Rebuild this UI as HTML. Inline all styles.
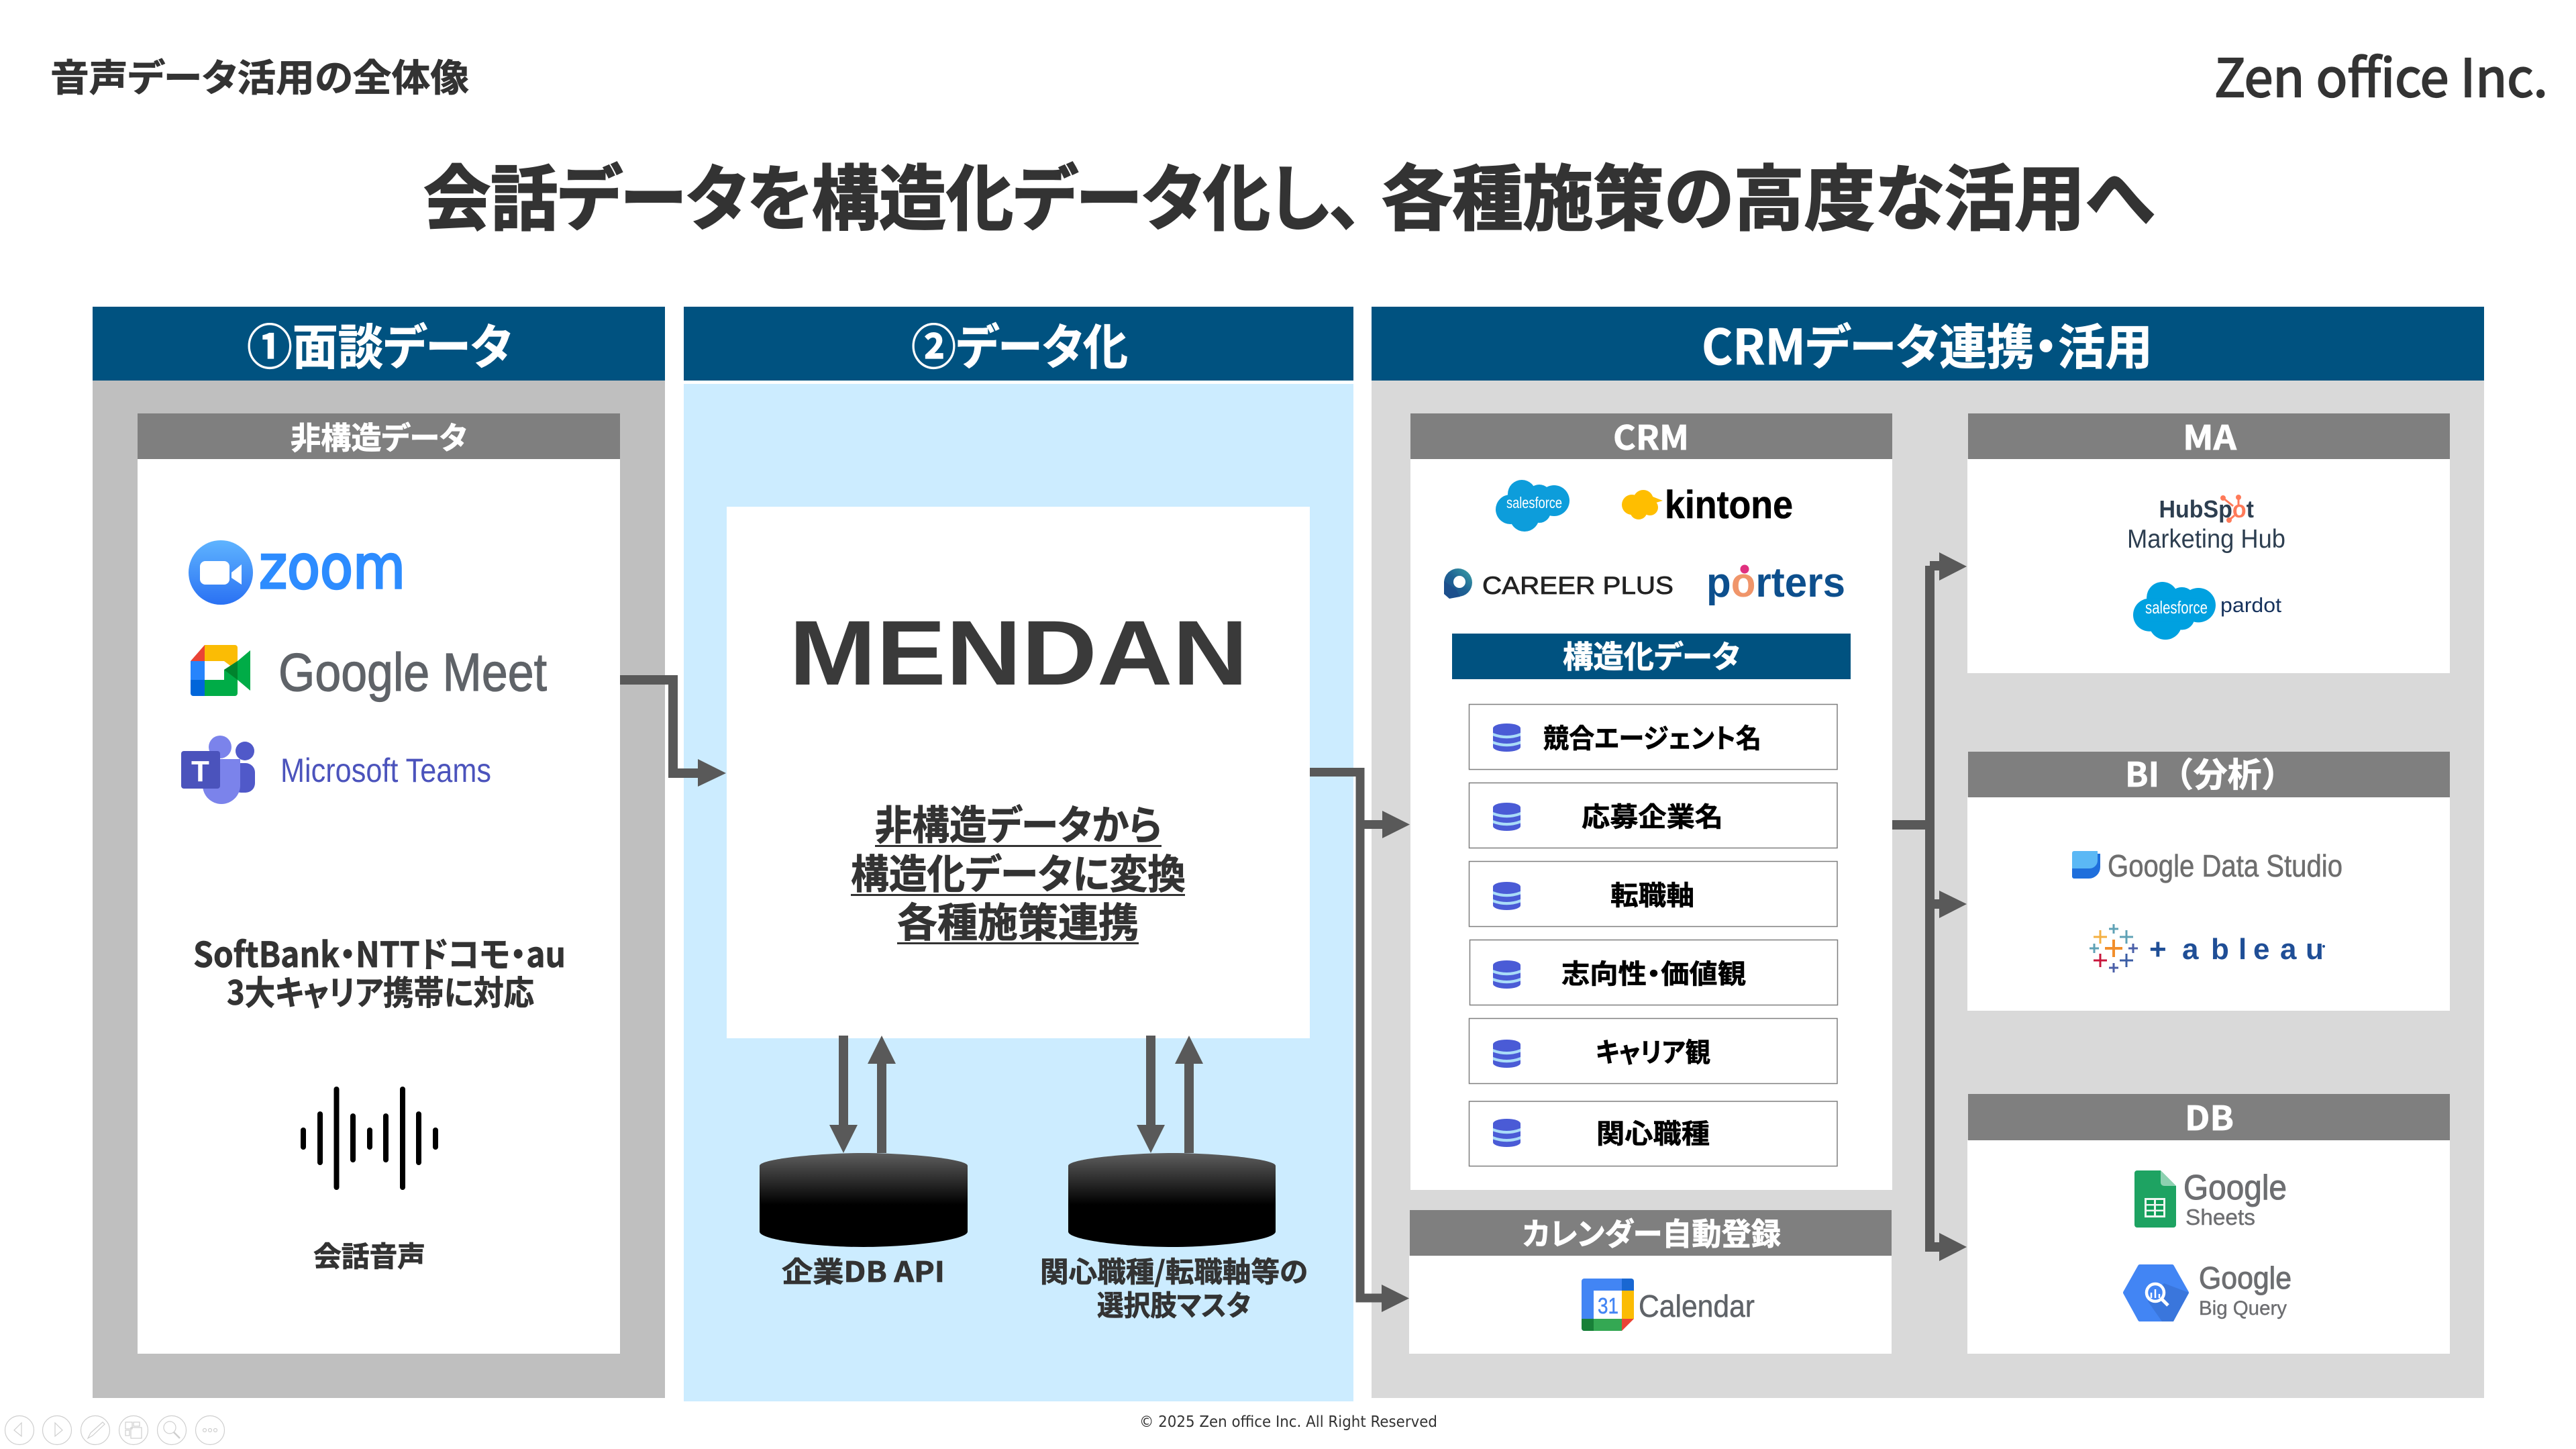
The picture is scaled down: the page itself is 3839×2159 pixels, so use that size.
<!DOCTYPE html>
<html lang="ja"><head><meta charset="utf-8"><title>音声データ活用の全体像</title>
<style>
html,body{margin:0;padding:0;background:#fff}
svg{display:block}
text{font-family:"Liberation Sans","Noto Sans CJK JP",sans-serif;font-feature-settings:"palt";font-kerning:normal}
.b{font-weight:700}
.j{font-family:"Noto Sans CJK JP","Liberation Sans",sans-serif;font-weight:700}
.c{fill:#333;stroke:#333;stroke-width:.8}.w{fill:#fff;stroke:#fff;stroke-width:.8}.k{fill:#000;stroke:#000;stroke-width:.6}
</style></head><body>
<svg xmlns="http://www.w3.org/2000/svg" width="3839" height="2159" viewBox="0 0 3839 2159">
<defs>
<linearGradient id="cy" x1="0" y1="0" x2="0" y2="1"><stop offset="0" stop-color="#5e5e5e"/><stop offset=".55" stop-color="#000"/><stop offset="1" stop-color="#000"/></linearGradient>
<linearGradient id="zg" x1="0" y1="0" x2="0" y2="1"><stop offset="0" stop-color="#5fb4ff"/><stop offset="1" stop-color="#2a71f3"/></linearGradient>
<linearGradient id="cp" x1="1" y1="0" x2="0" y2="1"><stop offset="0" stop-color="#3da5a8"/><stop offset=".5" stop-color="#1f6294"/><stop offset="1" stop-color="#1c4f8c"/></linearGradient>
<g id="cl"><circle cx="39" cy="21" r="21"/><circle cx="65" cy="25" r="18"/><circle cx="87" cy="31" r="23"/><circle cx="22" cy="44" r="22"/><circle cx="43" cy="55" r="22"/><circle cx="65" cy="47" r="17"/><rect x="20" y="22" width="70" height="30"/></g>
<g id="db"><rect x="0" y="4" width="41" height="34" rx="4" fill="#4a5bd6"/><ellipse cx="20.5" cy="7" rx="20.5" ry="7" fill="#4a5bd6"/><ellipse cx="20.5" cy="35" rx="20.5" ry="7" fill="#4a5bd6"/><path d="M0 14 Q20.5 22 41 14 V18.5 Q20.5 26 0 18.5Z M0 26 Q20.5 34 41 26 V30.5 Q20.5 38 0 30.5Z" fill="#a9dcf8"/></g>
</defs>

<!-- header text -->
<text class="j c" x="75" y="136" font-size="56" textLength="624" lengthAdjust="spacingAndGlyphs">音声データ活用の全体像</text>
<text x="3300" y="144" font-size="78" fill="#333" stroke="#333" stroke-width="2.2" textLength="497" lengthAdjust="spacingAndGlyphs" style="font-family:'Noto Sans CJK JP','Liberation Sans',sans-serif">Zen office Inc.</text>
<text class="j c" style="stroke-width:2.2" x="631" y="334" font-size="106" textLength="1400" lengthAdjust="spacingAndGlyphs">会話データを構造化データ化し、</text>
<text class="j c" style="stroke-width:2.2" x="2059" y="334" font-size="106" textLength="1151" lengthAdjust="spacingAndGlyphs">各種施策の高度な活用へ</text>

<!-- column 1 -->
<rect x="138" y="567" width="853" height="1516" fill="#bfbfbf"/>
<rect x="138" y="457" width="853" height="110" fill="#005280"/>
<text class="j w" x="368" y="543" font-size="72" textLength="395" lengthAdjust="spacingAndGlyphs">①面談データ</text>
<rect x="205" y="684" width="719" height="1333" fill="#fff"/>
<rect x="205" y="616" width="719" height="68" fill="#7f7f7f"/>
<text class="j w" x="433" y="669" font-size="46" textLength="263" lengthAdjust="spacingAndGlyphs">非構造データ</text>

<!-- zoom -->
<circle cx="329" cy="853" r="48" fill="url(#zg)"/>
<rect x="298" y="836" width="44" height="35" rx="8" fill="#fff"/>
<polygon points="345,853 360,841 360,871 345,861" fill="#fff"/>
<text x="386" y="876" font-size="90" fill="#2d8cff" stroke="#2d8cff" stroke-width="3.500" textLength="218" lengthAdjust="spacingAndGlyphs" style="font-family:'DejaVu Sans',sans-serif">zoom</text>

<!-- meet -->
<polygon points="284,985 305,961 305,985" fill="#ea4335"/>
<path d="M305 961H350a4 4 0 0 1 4 4V1000L334 985H305Z" fill="#fbbc04"/>
<rect x="284" y="985" width="21" height="28" fill="#2684fc"/>
<path d="M284 1013H305V1037H288a4 4 0 0 1-4-4Z" fill="#0066da"/>
<path d="M305 1013H334V998L354 985V1033a4 4 0 0 1-4 4H305Z" fill="#00ac47"/>
<polygon points="334,998 354,985 373,969 373,1029 354,1013" fill="#00ac47"/>
<polygon points="334,998 354,985 354,1013" fill="#00832d"/>
<rect x="305" y="985" width="29" height="28" fill="#fff"/>
<text x="415" y="1029" font-size="80" fill="#5f6368" stroke="#5f6368" stroke-width="1.200" textLength="400" lengthAdjust="spacingAndGlyphs">Google Meet</text>

<!-- teams -->
<circle cx="365" cy="1119" r="14" fill="#5059c9"/>
<rect x="345" y="1137" width="35" height="44" rx="14" fill="#5059c9"/>
<circle cx="328" cy="1113" r="17" fill="#7b83eb"/>
<path d="M302 1131H358V1170a28 28 0 0 1-56 0Z" fill="#7b83eb"/>
<rect x="270" y="1119" width="58" height="56" rx="4" fill="#4b53bc"/>
<text class="b" x="285" y="1164" font-size="44" fill="#fff">T</text>
<text x="418" y="1165" font-size="50" fill="#4b53bc" textLength="314" lengthAdjust="spacingAndGlyphs">Microsoft Teams</text>

<text class="j c" x="288" y="1441" font-size="52" textLength="555" lengthAdjust="spacingAndGlyphs">SoftBank・NTTドコモ・au</text>
<text class="j c" x="338" y="1497" font-size="50" textLength="458" lengthAdjust="spacingAndGlyphs">3大キャリア携帯に対応</text>

<!-- waveform -->
<g fill="#000">
<rect x="448" y="1680" width="8" height="33" rx="4"/>
<rect x="473" y="1656" width="8" height="80" rx="4"/>
<rect x="497.500" y="1619" width="8" height="154" rx="4"/>
<rect x="522" y="1659" width="8" height="73" rx="4"/>
<rect x="547" y="1680" width="8" height="33" rx="4"/>
<rect x="571" y="1659" width="8" height="73" rx="4"/>
<rect x="596" y="1619" width="8" height="154" rx="4"/>
<rect x="620" y="1656" width="8" height="80" rx="4"/>
<rect x="645" y="1680" width="8" height="33" rx="4"/>
</g>
<text class="j c" x="467" y="1887" font-size="42" textLength="167" lengthAdjust="spacingAndGlyphs">会話音声</text>

<!-- column 2 -->
<rect x="1019" y="457" width="998" height="110" fill="#005280"/>
<rect x="1019" y="572" width="998" height="1516" fill="#ccecff"/>
<text class="j w" x="1358" y="543" font-size="72" textLength="323" lengthAdjust="spacingAndGlyphs">②データ化</text>
<rect x="1083" y="755" width="869" height="792" fill="#fff"/>
<text class="b" x="1176" y="1020" font-size="137" fill="#3a3a3a" textLength="684" lengthAdjust="spacingAndGlyphs">MENDAN</text>
<text class="j c" x="1304" y="1251" font-size="60" textLength="427" lengthAdjust="spacingAndGlyphs">非構造データから</text>
<rect x="1304" y="1259" width="427" height="3" fill="#333"/>
<text class="j c" x="1268" y="1324" font-size="60" textLength="499" lengthAdjust="spacingAndGlyphs">構造化データに変換</text>
<rect x="1268" y="1332" width="498" height="3" fill="#333"/>
<text class="j c" x="1337" y="1396" font-size="60" textLength="360" lengthAdjust="spacingAndGlyphs">各種施策連携</text>
<rect x="1337" y="1404" width="360" height="3" fill="#333"/>

<!-- cylinders -->
<path d="M1132 1737C1132 1727 1220 1718 1287 1718C1354 1718 1442 1727 1442 1737V1835C1442 1848 1354 1858 1287 1858C1220 1858 1132 1848 1132 1835Z" fill="url(#cy)"/>
<path d="M1592 1737C1592 1727 1680 1718 1747 1718C1814 1718 1901 1727 1901 1737V1835C1901 1848 1814 1858 1747 1858C1680 1858 1592 1848 1592 1835Z" fill="url(#cy)"/>
<text class="j c" x="1165" y="1910" font-size="42" textLength="243" lengthAdjust="spacingAndGlyphs">企業DB API</text>
<text class="j c" x="1550" y="1910" font-size="42" textLength="399" lengthAdjust="spacingAndGlyphs">関心職種/転職軸等の</text>
<text class="j c" x="1635" y="1960" font-size="42" textLength="229" lengthAdjust="spacingAndGlyphs">選択肢マスタ</text>

<!-- vertical arrows -->
<g fill="#595959">
<rect x="1250" y="1543" width="14" height="135"/><polygon points="1236,1676 1278,1676 1257,1718"/>
<rect x="1307" y="1583" width="14" height="135"/><polygon points="1293,1585 1335,1585 1314,1543"/>
<rect x="1708" y="1543" width="14" height="135"/><polygon points="1694,1676 1736,1676 1715,1718"/>
<rect x="1765" y="1583" width="14" height="135"/><polygon points="1751,1585 1793,1585 1772,1543"/>
</g>

<!-- column 3 -->
<rect x="2044" y="567" width="1658" height="1516" fill="#d9d9d9"/>
<rect x="2044" y="457" width="1658" height="110" fill="#005280"/>
<text class="j w" x="2536" y="543" font-size="72" textLength="672" lengthAdjust="spacingAndGlyphs">CRMデータ連携・活用</text>

<!-- CRM -->
<rect x="2102" y="684" width="718" height="1089" fill="#fff"/>
<rect x="2102" y="616" width="718" height="68" fill="#7f7f7f"/>
<text class="j w" x="2404" y="670" font-size="50" textLength="113" lengthAdjust="spacingAndGlyphs">CRM</text>

<use href="#cl" transform="translate(2229,715)" fill="#0d9ddb"/>
<text x="2245" y="757" font-size="23" fill="#fff" textLength="83" lengthAdjust="spacingAndGlyphs">salesforce</text>
<g fill="#ffbe00"><circle cx="2432" cy="752" r="15"/><circle cx="2449" cy="745" r="15"/><circle cx="2459" cy="756" r="12"/><circle cx="2442" cy="761" r="13"/><polygon points="2458,738 2478,746 2458,752"/></g>
<text class="b k" x="2481" y="772" font-size="58" textLength="191" lengthAdjust="spacingAndGlyphs">kintone</text>

<circle cx="2173" cy="868" r="21" fill="url(#cp)"/>
<path d="M2152 866V885L2160 892L2176 889L2170 878Z" fill="#1c4f8c"/>
<circle cx="2175" cy="867" r="9" fill="#fff"/>
<text x="2209" y="885" font-size="37" fill="#222" stroke="#222" stroke-width=".8" textLength="285" lengthAdjust="spacingAndGlyphs">CAREER PLUS</text>

<text class="b" x="2543" y="889" font-size="62" fill="#0d4f8d" textLength="207" lengthAdjust="spacingAndGlyphs">p<tspan fill="#f0956a">o</tspan>rters</text>
<circle cx="2600" cy="848" r="6.500" fill="#e0307f"/>

<rect x="2164" y="944" width="594" height="68" fill="#005280"/>
<text class="j w" x="2329" y="995" font-size="46" textLength="264" lengthAdjust="spacingAndGlyphs">構造化データ</text>

<g fill="#fff" stroke="#7f7f7f" stroke-width="1.500">
<rect x="2189.500" y="1049.500" width="548.500" height="97"/>
<rect x="2189.500" y="1166.500" width="548.500" height="97"/>
<rect x="2189.500" y="1283.500" width="548.500" height="97"/>
<rect x="2190.500" y="1400.500" width="548" height="97"/>
<rect x="2189.500" y="1517.500" width="548.500" height="97"/>
<rect x="2189.500" y="1641" width="548.500" height="96.500"/>
</g>
<use href="#db" x="2225" y="1078"/><use href="#db" x="2225" y="1196"/><use href="#db" x="2225" y="1314"/><use href="#db" x="2225" y="1431"/><use href="#db" x="2225" y="1549"/><use href="#db" x="2225" y="1667"/>
<text class="j k" x="2300" y="1114" font-size="40" textLength="325" lengthAdjust="spacingAndGlyphs">競合エージェント名</text>
<text class="j k" x="2357" y="1231" font-size="40" textLength="211" lengthAdjust="spacingAndGlyphs">応募企業名</text>
<text class="j k" x="2400" y="1348" font-size="40" textLength="125" lengthAdjust="spacingAndGlyphs">転職軸</text>
<text class="j k" x="2327" y="1465" font-size="40" textLength="275" lengthAdjust="spacingAndGlyphs">志向性・価値観</text>
<text class="j k" x="2378" y="1582" font-size="40" textLength="171" lengthAdjust="spacingAndGlyphs">キャリア観</text>
<text class="j k" x="2379" y="1703" font-size="40" textLength="169" lengthAdjust="spacingAndGlyphs">関心職種</text>

<!-- Calendar -->
<rect x="2100" y="1871" width="719" height="146" fill="#fff"/>
<rect x="2101" y="1803" width="718" height="68" fill="#7f7f7f"/>
<text class="j w" x="2269" y="1855" font-size="46" textLength="385" lengthAdjust="spacingAndGlyphs">カレンダー自動登録</text>
<path d="M2361 1905H2417V1965H2376V1983H2361a4 4 0 0 1-4-4V1909a4 4 0 0 1 4-4Z" fill="#4285f4"/>
<path d="M2417 1905H2431a4 4 0 0 1 4 4V1923H2417Z" fill="#1967d2"/>
<rect x="2417" y="1923" width="18" height="42" fill="#fbbc04"/>
<rect x="2375" y="1965" width="42" height="18" fill="#34a853"/>
<path d="M2357 1965H2375V1983H2361a4 4 0 0 1-4-4Z" fill="#188038"/>
<polygon points="2417,1965 2435,1965 2417,1983" fill="#ea4335"/>
<rect x="2375" y="1923" width="42" height="42" fill="#fff"/>
<text x="2381" y="1957" font-size="33" fill="#4285f4" stroke="#4285f4" stroke-width=".5" textLength="31" lengthAdjust="spacingAndGlyphs">31</text>
<text x="2442" y="1962" font-size="46" fill="#5f6368" stroke="#5f6368" stroke-width=".5" textLength="173" lengthAdjust="spacingAndGlyphs">Calendar</text>

<!-- MA -->
<rect x="2932" y="684" width="719" height="319" fill="#fff"/>
<rect x="2933" y="616" width="718" height="68" fill="#7f7f7f"/>
<text class="j w" x="3253" y="670" font-size="50" textLength="80" lengthAdjust="spacingAndGlyphs">MA</text>
<g stroke="#ff7a59" stroke-width="3" fill="#ff7a59"><line x1="3313" y1="742" x2="3328" y2="754"/><line x1="3336" y1="742" x2="3336" y2="752"/><line x1="3322" y1="775" x2="3330" y2="768"/><circle cx="3313" cy="742" r="2.500"/><circle cx="3336" cy="741" r="2.500"/><circle cx="3322" cy="775" r="2.500"/></g>
<text class="b" x="3217.500" y="771" font-size="36" fill="#2d3e50" textLength="141.500" lengthAdjust="spacingAndGlyphs">HubSp<tspan fill="#ff7a59">o</tspan>t</text>
<text x="3170" y="816" font-size="39" fill="#2d3e50" textLength="236" lengthAdjust="spacingAndGlyphs">Marketing Hub</text>
<use href="#cl" transform="translate(3179,867) scale(1.118)" fill="#00a1e0"/>
<text x="3197" y="914" font-size="26" fill="#fff" textLength="93" lengthAdjust="spacingAndGlyphs">salesforce</text>
<text x="3309" y="912" font-size="31" fill="#16325c" textLength="91" lengthAdjust="spacingAndGlyphs">pardot</text>

<!-- BI -->
<rect x="2932" y="1188" width="719" height="318" fill="#fff"/>
<rect x="2933" y="1120" width="718" height="68" fill="#7f7f7f"/>
<text class="j w" x="3167" y="1172" font-size="50" style="font-feature-settings:normal" textLength="254" lengthAdjust="spacingAndGlyphs">BI（分析）</text>
<path d="M3091 1272H3130V1292a17 17 0 0 1-17 17H3091a3 3 0 0 1-3-3V1275a3 3 0 0 1 3-3Z" fill="#1f6fdc"/>
<path d="M3091 1268H3126V1282a12 12 0 0 1-12 12H3088V1271a3 3 0 0 1 3-3Z" fill="#5bb8f5"/>
<text x="3141" y="1306" font-size="46" fill="#6e6e6e" stroke="#6e6e6e" stroke-width=".6" textLength="350" lengthAdjust="spacingAndGlyphs">Google Data Studio</text>
<g fill="none" stroke-width="3">
<path d="M3137 1413h26M3150 1400v26" stroke="#f28e2b" stroke-width="4"/>
<path d="M3143 1384h14M3150 1377v14" stroke="#5fa2b6"/>
<path d="M3120 1396h20M3130 1386v20" stroke="#f4b042"/>
<path d="M3159 1396h20M3169 1386v20" stroke="#5fa2b6"/>
<path d="M3114 1413h14M3121 1406v14" stroke="#5fa2b6"/>
<path d="M3172 1413h14M3179 1406v14" stroke="#4a5fa8"/>
<path d="M3120 1431h20M3130 1421v20" stroke="#c8173c"/>
<path d="M3159 1431h20M3169 1421v20" stroke="#3b5ea5"/>
<path d="M3143 1442h14M3150 1435v14" stroke="#4a5fa8"/>
</g>
<text class="b" x="3203 3252 3295 3336 3358 3398 3436" y="1429" font-size="44" fill="#1f4e96">+ableau</text>
<circle cx="3463" cy="1410" r="2" fill="#1f4e96"/>

<!-- DB -->
<rect x="2932" y="1699" width="719" height="318" fill="#fff"/>
<rect x="2933" y="1630" width="718" height="69" fill="#7f7f7f"/>
<text class="j w" x="3256" y="1684" font-size="50" textLength="73" lengthAdjust="spacingAndGlyphs">DB</text>
<path d="M3185 1744H3220L3243 1767V1825a4 4 0 0 1-4 4H3185a4 4 0 0 1-4-4V1748a4 4 0 0 1 4-4Z" fill="#1ea362"/>
<path d="M3220 1744V1762a5 5 0 0 0 5 5H3243Z" fill="#8ed1b1"/>
<rect x="3196" y="1785" width="31" height="29" fill="#eef6f0"/>
<g fill="#0f9d58"><rect x="3199" y="1788" width="11" height="6"/><rect x="3213" y="1788" width="11" height="6"/><rect x="3199" y="1796.500" width="11" height="6"/><rect x="3213" y="1796.500" width="11" height="6"/><rect x="3199" y="1805" width="11" height="6"/><rect x="3213" y="1805" width="11" height="6"/></g>
<text x="3254" y="1787" font-size="52" fill="#6d6e71" stroke="#6d6e71" stroke-width="1" textLength="154" lengthAdjust="spacingAndGlyphs">Google</text>
<text x="3257" y="1825" font-size="33" fill="#6d6e71" stroke="#6d6e71" stroke-width=".4" textLength="104" lengthAdjust="spacingAndGlyphs">Sheets</text>
<polygon points="3167,1926 3189,1887 3237,1887 3259,1926 3237,1966 3189,1966" fill="#4285f4" stroke="#4285f4" stroke-width="6" stroke-linejoin="round"/>
<polygon points="3225,1912 3262,1926 3239,1969 3222,1969 3201,1939" fill="#3a76dc"/>
<circle cx="3212" cy="1926" r="13" fill="#4285f4" stroke="#fff" stroke-width="4.500"/>
<line x1="3222" y1="1936" x2="3231" y2="1945" stroke="#fff" stroke-width="5"/>
<path d="M3206 1926v8M3212 1921v13M3218 1928v6" stroke="#fff" stroke-width="2.500"/>
<text x="3277" y="1920" font-size="46" fill="#6d6e71" stroke="#6d6e71" stroke-width="1" textLength="138" lengthAdjust="spacingAndGlyphs">Google</text>
<text x="3277" y="1959" font-size="30" fill="#6d6e71" stroke="#6d6e71" stroke-width=".4" textLength="131" lengthAdjust="spacingAndGlyphs">Big Query</text>

<!-- connectors -->
<g fill="none" stroke="#595959" stroke-width="14">
<path d="M924 1013H1003V1152H1045"/>
<path d="M1952 1150.500H2027V1934H2064M2027 1228.500H2064" stroke-width="13"/>
<path d="M2820 1229H2876M2876 843V1858H2895M2876 843H2895"/>
<path d="M2876 1347H2895"/>
</g>
<g fill="#595959">
<polygon points="1040,1131 1082,1152 1040,1172"/>
<polygon points="2060,1208 2101,1228.500 2060,1249"/>
<polygon points="2059,1914 2100,1934.500 2059,1955"/>
<polygon points="2890,823 2931,844 2890,865"/>
<polygon points="2890,1327 2931,1347 2890,1368"/>
<polygon points="2890,1837 2931,1858 2890,1879"/>
</g>

<text x="1698" y="2126" font-size="23" fill="#333" textLength="444" lengthAdjust="spacingAndGlyphs" style="font-family:'DejaVu Sans',sans-serif">© 2025 Zen office Inc. All Right Reserved</text>

<!-- toolbar -->
<g fill="none" stroke="#cfcfcf" stroke-width="1.200">
<circle cx="29" cy="2131" r="21.500"/><circle cx="85" cy="2131" r="21.500"/><circle cx="142" cy="2131" r="21.500"/><circle cx="199" cy="2131" r="21.500"/><circle cx="256" cy="2131" r="21.500"/><circle cx="313" cy="2131" r="21.500"/>
<polygon points="32,2120 21,2131 32,2140"/><polygon points="82,2120 93,2131 82,2140"/>
<path d="M131 2143L135 2135L153 2119L156 2122L138 2139Z"/>
<rect x="187" y="2119" width="10" height="10"/><rect x="199" y="2119" width="9" height="6"/><rect x="187" y="2131" width="6" height="8"/><rect x="195" y="2127" width="16" height="16"/>
<circle cx="253" cy="2127" r="9"/><line x1="259" y1="2134" x2="268" y2="2143" stroke-width="2.500"/>
<circle cx="305" cy="2131" r="2.500"/><circle cx="313" cy="2131" r="2.500"/><circle cx="321" cy="2131" r="2.500"/>
</g>
</svg>
</body></html>
